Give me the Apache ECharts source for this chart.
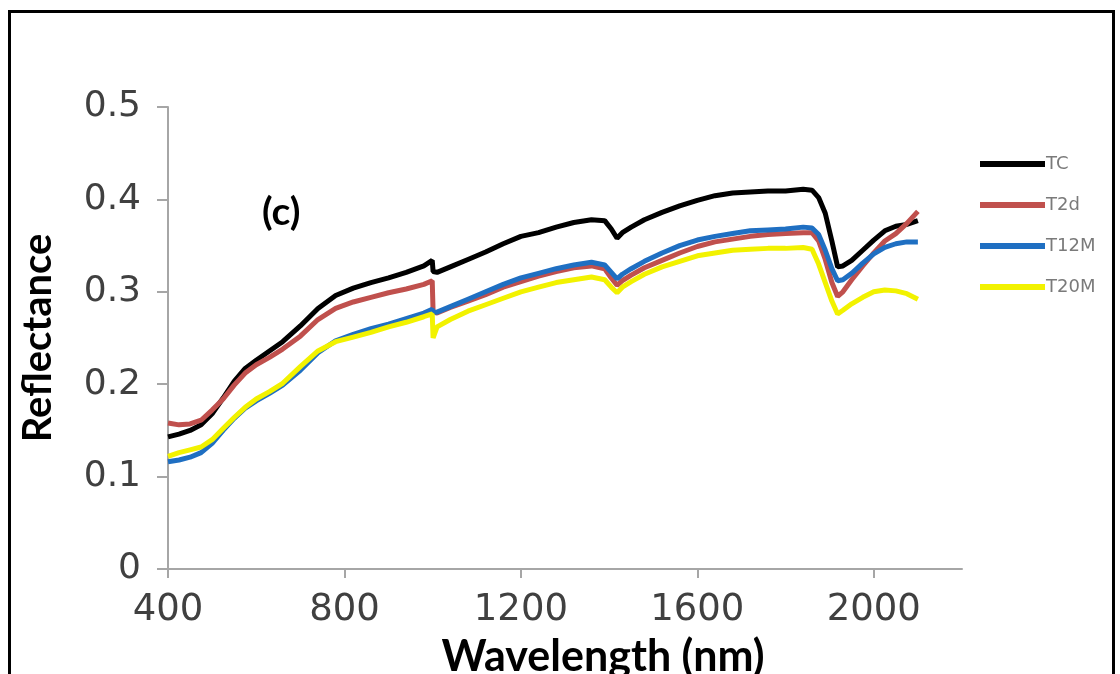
<!DOCTYPE html>
<html>
<head>
<meta charset="utf-8">
<script src="https://cdn.jsdelivr.net/npm/echarts@6/dist/echarts.min.js"></script>
<style>html,body{margin:0;padding:0;background:#fff}#c{width:1120px;height:674px}</style>
</head>
<body>
<div id="c"></div>
<script>
var wavelengths = [400,425,450,475,500,525,550,575,600,630,660,700,740,780,820,860,900,940,980,999,1001,1010,1040,1080,1120,1160,1200,1240,1280,1320,1360,1390,1405,1418,1430,1450,1480,1520,1560,1600,1640,1680,1720,1760,1800,1840,1860,1875,1890,1905,1918,1930,1950,1975,2000,2025,2050,2075,2100];
var seriesNames = ["TC","T2d","T12M","T20M"];
var tc = [0.143,0.146,0.150,0.156,0.168,0.185,0.203,0.217,0.226,0.236,0.246,0.263,0.282,0.296,0.304,0.310,0.315,0.321,0.328,0.334,0.322,0.321,0.327,0.335,0.343,0.352,0.360,0.364,0.370,0.375,0.378,0.377,0.368,0.358,0.364,0.370,0.378,0.386,0.393,0.399,0.404,0.407,0.408,0.409,0.409,0.411,0.410,0.402,0.385,0.355,0.327,0.328,0.334,0.345,0.356,0.366,0.371,0.373,0.377];
var t2d = [0.158,0.156,0.157,0.161,0.172,0.184,0.199,0.212,0.221,0.229,0.238,0.252,0.270,0.282,0.289,0.294,0.299,0.303,0.308,0.312,0.278,0.277,0.283,0.290,0.297,0.305,0.311,0.317,0.322,0.326,0.328,0.325,0.315,0.307,0.312,0.318,0.326,0.334,0.342,0.349,0.354,0.357,0.360,0.362,0.363,0.364,0.364,0.355,0.335,0.310,0.295,0.300,0.313,0.328,0.342,0.355,0.363,0.374,0.387];
var t12m = [0.116,0.118,0.121,0.126,0.136,0.150,0.163,0.174,0.182,0.190,0.199,0.215,0.234,0.247,0.254,0.260,0.265,0.271,0.277,0.281,0.278,0.278,0.284,0.292,0.300,0.308,0.315,0.320,0.325,0.329,0.332,0.329,0.321,0.314,0.319,0.325,0.333,0.342,0.350,0.356,0.360,0.363,0.366,0.367,0.368,0.370,0.369,0.362,0.345,0.325,0.312,0.313,0.320,0.331,0.341,0.348,0.352,0.354,0.354];
var t20m = [0.122,0.126,0.129,0.132,0.140,0.152,0.164,0.175,0.184,0.192,0.201,0.219,0.236,0.246,0.251,0.256,0.262,0.267,0.273,0.276,0.250,0.262,0.270,0.279,0.286,0.293,0.300,0.305,0.310,0.313,0.316,0.313,0.305,0.299,0.305,0.311,0.319,0.327,0.333,0.339,0.342,0.345,0.346,0.347,0.347,0.348,0.346,0.330,0.310,0.290,0.276,0.280,0.287,0.294,0.300,0.302,0.301,0.298,0.292];
var xTicks = [400,800,1200,1600,2000];
var yTicks = [0,0.1,0.2,0.3,0.4,0.5];

var colors = ["#000000","#c0504d","#1f6fc2","#f2f200"];
var allValues = [tc,t2d,t12m,t20m];

function pairs(vals){ return wavelengths.map(function(w,i){ return [w, vals[i]]; }); }

var chart = echarts.init(document.getElementById('c'), null, {renderer:'canvas'});
var series = seriesNames.map(function(n,i){
  return {
    name:n, type:'line', data:pairs(allValues[i]), showSymbol:false, symbol:'none',
    lineStyle:{color:colors[i], width:5}, itemStyle:{color:colors[i]},
    z: 2+i, animation:false
  };
});

chart.setOption({
  backgroundColor:'#ffffff',
  animation:false,
  grid:{left:168, top:107, right:158, bottom:105, containLabel:false, outerBoundsMode:'none'},
  legend:{
    orient:'vertical', left:975, top:150, itemWidth:65, itemHeight:6, itemGap:23,
    icon:'rect', data:seriesNames,
    textStyle:{fontFamily:'DejaVu Sans', fontSize:18, color:'#7a7a7a', padding:[0,0,0,-4]}
  },
  xAxis:{
    type:'value', min:400, max:2200, interval:400,
    name:'Wavelength (nm)', nameLocation:'middle', nameGap:67,
    nameTextStyle:{fontFamily:'Lato', fontWeight:'bold', fontSize:43, color:'#000', padding:[0,0,0,76]},
    axisLine:{show:true, lineStyle:{color:'#a6a6a6', width:2}},
    axisTick:{show:true, length:9, lineStyle:{color:'#a6a6a6', width:2}, customValues:xTicks},
    axisLabel:{fontFamily:'DejaVu Sans', fontSize:37, color:'#404040', margin:23, customValues:xTicks,
      formatter:function(v){ return String(v); }},
    splitLine:{show:false}
  },
  yAxis:{
    type:'value', min:0, max:0.5, interval:0.1,
    name:'Reflectance', nameLocation:'middle', nameGap:110,
    nameTextStyle:{fontFamily:'Lato', fontWeight:'bold', fontSize:40, color:'#000'},
    axisLine:{show:true, lineStyle:{color:'#a6a6a6', width:2}},
    axisTick:{show:true, length:11, lineStyle:{color:'#a6a6a6', width:2}},
    axisLabel:{fontFamily:'DejaVu Sans', fontSize:36, color:'#404040', margin:27,
      formatter:function(v){ return String(Math.round(v*10)/10); }},
    splitLine:{show:false}
  },
  graphic:[
    {type:'rect', left:7, top:9, shape:{width:1104, height:700}, style:{fill:'none', stroke:'#000', lineWidth:3}, silent:true},
    {type:'text', left:262, top:193, style:{text:'(c)', font:'bold 39px Lato', fill:'#000'}}
  ],
  series:series
});
</script>
</body>
</html>
